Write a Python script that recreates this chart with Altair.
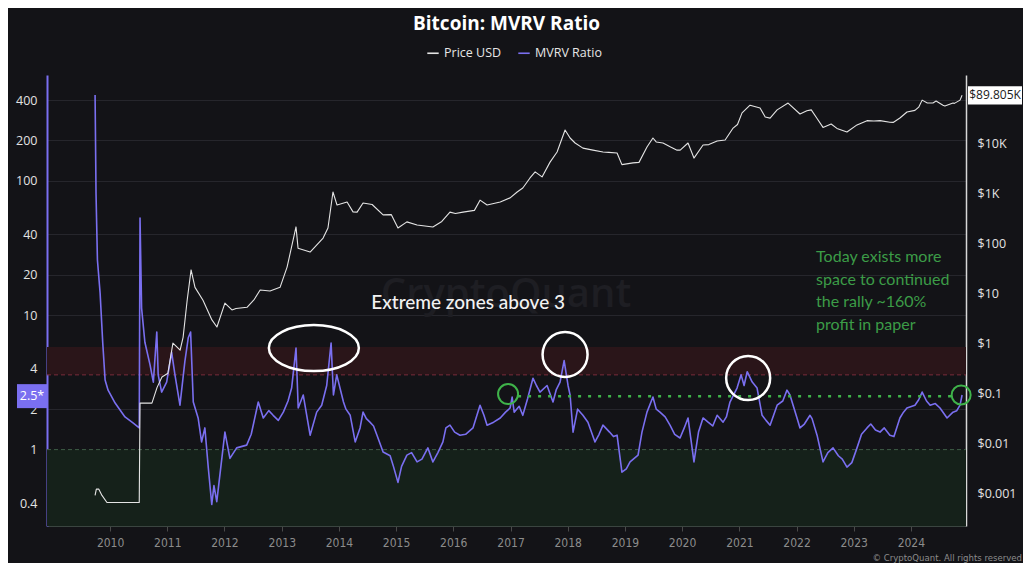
import altair as alt
import pandas as pd

# ---------------- data ----------------
mvrv_dates = [
    "2009-09-27", "2009-10-03", "2009-10-12", "2009-10-29", "2009-11-15", "2009-11-30",
    "2009-12-19", "2010-02-02", "2010-04-06", "2010-05-27", "2010-07-06", "2010-07-11",
    "2010-07-21", "2010-08-11", "2010-09-13", "2010-10-04", "2010-10-26", "2010-11-04",
    "2010-11-26", "2010-12-28", "2011-01-29", "2011-02-19", "2011-03-23", "2011-04-23",
    "2011-05-15", "2011-05-30", "2011-06-16", "2011-07-17", "2011-08-08", "2011-08-29",
    "2011-09-20", "2011-10-12", "2011-10-26", "2011-11-13", "2012-01-04", "2012-02-05",
    "2012-03-19", "2012-05-22", "2012-08-04", "2012-09-05", "2012-11-07", "2013-01-11",
    "2013-03-05", "2013-04-02", "2013-04-16", "2013-05-18", "2013-07-01", "2013-08-12",
    "2013-09-13", "2013-10-15", "2013-11-12", "2013-11-27", "2013-12-18", "2014-01-30",
    "2014-03-14", "2014-04-15", "2014-05-16", "2014-06-04", "2014-07-18", "2014-09-01",
    "2014-10-10", "2014-11-24", "2015-01-13", "2015-03-11", "2015-05-15", "2015-07-23",
    "2015-08-24", "2015-10-27", "2015-12-11", "2016-02-13", "2016-05-06", "2016-06-20",
    "2016-08-04", "2016-10-27", "2016-12-29", "2017-01-11", "2017-01-24", "2017-03-20",
    "2017-05-24", "2017-07-08", "2017-08-22", "2017-09-29", "2017-11-13", "2017-12-09",
    "2018-01-03", "2018-01-16", "2018-02-04", "2018-03-05", "2018-04-08", "2018-06-24",
    "2018-08-14", "2018-11-12", "2018-12-13", "2019-02-03", "2019-03-26", "2019-05-22",
    "2019-06-29", "2019-08-13", "2019-10-16", "2019-12-19", "2020-02-08", "2020-03-17",
    "2020-05-14", "2020-08-12", "2020-09-19", "2020-11-02", "2020-12-17", "2021-01-12",
    "2021-01-31", "2021-02-20", "2021-03-24", "2021-04-24", "2021-05-26", "2021-07-16",
    "2021-08-30", "2021-11-01", "2021-11-20", "2021-12-10", "2022-01-04", "2022-01-23",
    "2022-03-28", "2022-05-12", "2022-06-19", "2022-08-22", "2022-11-19", "2023-01-22",
    "2023-03-27", "2023-06-18", "2023-08-20", "2023-10-23", "2023-12-07", "2024-01-27",
    "2024-03-13", "2024-05-03", "2024-07-05", "2024-08-19", "2024-09-26", "2024-11-10",
    "2024-11-23",
]
mvrv_values = [
    436, 81, 25.8, 14.7, 6.2, 3.3,
    2.77, 2.22, 1.75, 1.58, 1.45, 53,
    11.3, 6.3, 4.27, 3.18, 7.5, 3.6,
    2.68, 3.18, 5.3, 3.6, 2.14, 4.5,
    6.8, 7.5, 2.26, 1.72, 1.14, 1.45,
    0.73, 0.39, 0.54, 0.41, 1.35, 0.86,
    1.03, 1.08, 2.26, 1.72, 1.8, 1.9,
    2.87, 5.7, 2.04, 2.55, 1.28, 1.9,
    2.14, 3.0, 6.2, 2.55, 3.6, 2.26,
    1.8, 1.14, 1.45, 1.9, 1.6, 1.28,
    0.96, 0.9, 0.57, 0.91, 0.81, 1.03,
    0.81, 1.14, 1.52, 1.28, 1.45, 2.14,
    1.52, 1.72, 2.04, 2.46, 1.9, 1.8,
    3.4, 2.68, 3.0, 2.26, 3.18, 4.6,
    3.0, 2.55, 1.35, 2.0, 1.8, 1.14,
    1.52, 1.28, 0.68, 0.81, 0.91, 1.9,
    2.46, 1.9, 1.52, 1.22, 1.72, 0.81,
    1.72, 1.8, 1.6, 2.26, 2.87, 3.6,
    3.0, 3.8, 3.18, 2.87, 1.8, 1.52,
    2.14, 2.77, 2.55, 2.14, 1.72, 1.45,
    1.8, 1.28, 0.81, 1.03, 0.74, 1.03,
    1.45, 1.35, 1.28, 1.72, 2.04, 2.14,
    2.68, 2.14, 2.04, 1.72, 1.9, 2.14,
    2.55,
]
# extra wiggles between the main turning points
mvrv_extra_dates = [
    "2012-06-20", "2012-10-10", "2012-12-10", "2013-02-10", "2014-02-15", "2014-06-25",
    "2014-08-10", "2014-12-15", "2015-02-05", "2015-04-10", "2015-06-15", "2015-09-25",
    "2015-11-15", "2016-01-10", "2016-03-20", "2016-07-15", "2016-09-15", "2016-11-30",
    "2017-02-25", "2017-04-20", "2017-06-15", "2017-10-20", "2018-05-10", "2018-07-20",
    "2018-09-25", "2018-10-20", "2019-01-10", "2019-04-20", "2019-07-20", "2019-09-15",
    "2019-11-15", "2020-01-15", "2020-04-15", "2020-06-15", "2020-07-15", "2020-10-10",
    "2021-06-20", "2021-10-05", "2022-02-20", "2022-04-10", "2022-07-20", "2022-09-25",
    "2022-10-20", "2022-12-20", "2023-02-20", "2023-04-20", "2023-05-20", "2023-07-15",
    "2023-09-15", "2023-11-15", "2024-02-20", "2024-04-10", "2024-06-05", "2024-10-20",
]
mvrv_extra_values = [
    1.3, 1.95, 1.65, 2.3, 2.0, 1.7,
    1.5, 0.75, 0.75, 0.95, 0.85, 0.95,
    1.45, 1.35, 1.3, 1.8, 1.6, 1.9,
    2.1, 2.4, 3.0, 2.8, 1.6, 1.3,
    1.35, 1.25, 0.72, 1.35, 2.0, 1.75,
    1.3, 1.45, 1.35, 1.6, 1.5, 1.75,
    1.65, 2.3, 1.55, 1.7, 0.95, 0.9,
    0.85, 0.8, 1.3, 1.55, 1.4, 1.45,
    1.25, 1.9, 2.35, 2.3, 2.2, 1.95,
]

price_dates = [
    "2009-09-27", "2009-10-05", "2009-10-21", "2009-11-10", "2009-12-12", "2010-07-06",
    "2010-07-11", "2010-07-30", "2010-09-25", "2010-10-28", "2010-11-28", "2011-01-05",
    "2011-02-06", "2011-03-24", "2011-04-12", "2011-05-08", "2011-06-02", "2011-06-27",
    "2011-08-17", "2011-10-13", "2011-11-14", "2012-01-04", "2012-02-18", "2012-05-24",
    "2012-08-16", "2012-10-18", "2012-12-21", "2013-02-04", "2013-04-02", "2013-04-15",
    "2013-07-01", "2013-09-22", "2013-10-23", "2013-11-24", "2013-12-20", "2014-02-22",
    "2014-04-01", "2014-04-27", "2014-06-04", "2014-10-10", "2015-01-13", "2015-03-11",
    "2015-05-15", "2015-08-24", "2015-12-11", "2016-03-03", "2016-06-20", "2016-08-04",
    "2016-10-27", "2016-12-29", "2017-02-12", "2017-03-20", "2017-05-05", "2017-06-07",
    "2017-07-21", "2017-09-10", "2017-10-25", "2017-12-15", "2018-01-16", "2018-02-17",
    "2018-04-08", "2018-06-11", "2018-08-14", "2018-11-12", "2018-12-13", "2019-02-22",
    "2019-05-22", "2019-06-29", "2019-09-01", "2019-11-30", "2020-02-08", "2020-03-17",
    "2020-05-14", "2020-08-12", "2020-10-02", "2020-11-22", "2021-01-18", "2021-03-10",
    "2021-05-13", "2021-06-15", "2021-07-16", "2021-08-30", "2021-11-08", "2022-01-23",
    "2022-03-08", "2022-05-12", "2022-06-19", "2022-09-16", "2022-11-19", "2023-01-22",
    "2023-03-27", "2023-06-18", "2023-08-20", "2023-10-23", "2023-12-07", "2024-01-27",
    "2024-02-20", "2024-03-13", "2024-05-21", "2024-07-24", "2024-09-26", "2024-11-10",
    "2024-11-23",
]
price_values = [
    0.0009, 0.0012, 0.0012, 0.0009, 0.00065, 0.00065,
    0.063, 0.063, 0.063, 0.13, 0.21, 0.25,
    1.0, 0.72, 1.3, 7.2, 29, 13,
    7.2, 2.9, 2.1, 6.3, 4.6, 5.2,
    11.5, 11, 13, 33, 210, 79,
    66, 126, 200, 1050, 575, 660,
    420, 415, 630, 365, 200, 265,
    230, 210, 415, 415, 720, 575,
    660, 800, 1050, 1260, 2000, 2650,
    2100, 4150, 6600, 18200, 12600, 10000,
    7900, 7200, 6600, 6300, 3700, 4000,
    8300, 12600, 10000, 7200, 10000, 5000,
    9100, 11000, 11500, 19900, 40000, 57000,
    50000, 33000, 31500, 46000, 63000, 38000,
    44000, 31000, 20500, 19600, 16600, 23000,
    28000, 28000, 26000, 31600, 41700, 45000,
    52000, 72000, 63000, 57000, 63000, 72000,
    89805,
]
price_extra_dates = [
    "2012-03-15", "2012-07-10", "2014-08-01", "2014-12-01", "2015-10-20", "2016-01-15",
    "2016-05-15", "2018-09-20", "2019-04-01", "2019-07-20", "2019-10-20", "2019-12-20",
    "2020-06-20", "2020-12-20", "2022-04-05", "2022-08-10", "2023-05-10", "2023-09-10",
    "2024-04-15", "2024-06-10", "2024-08-05", "2024-10-05",
]
price_extra_values = [
    4.9, 7.5, 590, 370, 270, 390,
    450, 6500, 4100, 10500, 8300, 7200,
    9300, 23500, 46000, 24000, 27500, 25800,
    63000, 69000, 55000, 62000,
]

mvrv_ticks = [0.4, 1, 2, 4, 10, 20, 40, 100, 200, 400]
price_ticks = [0.001, 0.01, 0.1, 1, 10, 100, 1000, 10000]
year_ticks = list(range(2010, 2025))

overheat_zone = [3.6, 5.8]
undervalued_level = 1.0
current_level = 2.5
last_price = 89805
last_price_label = "$89.805K"

green_marks_dates = ["2016-12-16", "2024-11-17"]
green_marks_values = [2.59, 2.55]
green_line_dates = ["2017-02-18", "2024-10-20"]

white_marks_dates = ["2013-07-25", "2017-12-15", "2021-02-26"]
white_marks_values = [5.70, 5.10, 3.41]

note_lines = ["Today exists more", "space to continued", "the rally ~160%", "profit in paper"]
note_values = [27.1, 18.3, 12.5, 8.45]

# ---------------- layout / style ----------------
W, H = 919, 451
BG = "#131317"
PURPLE = "#7a6ff0"
GREEN = "#3fb34a"
NARROW = "Liberation Sans Narrow, DejaVu Sans Condensed, Liberation Sans, sans-serif"
MVRV_DOMAIN = [0.27, 614]
PRICE_DOMAIN = [0.00022, 229000]

x_scale = alt.Scale(type="utc", domain=[alt.DateTime(year=2008, month=11, date=24, utc=True),
                                        alt.DateTime(year=2024, month=12, date=18, utc=True)])
x_axis = alt.Axis(values=[alt.DateTime(year=y, month=1, date=1, utc=True) for y in year_ticks],
                  format="%Y", title=None, grid=False, labelColor="#8c8c8c",
                  labelFont=NARROW, labelFontSize=12, tickColor="#4a4a4a",
                  tickSize=5, domainColor="#3a4540", labelPadding=6)

def X(field="date"):
    return alt.X(f"{field}:T", scale=x_scale, axis=x_axis)

mvrv_scale = alt.Scale(type="log", domain=MVRV_DOMAIN)
mvrv_axis = alt.Axis(orient="left", values=mvrv_ticks, format="~g", title=None, grid=True,
                     gridColor="#26262c", ticks=False, domainColor=PURPLE, domainWidth=2,
                     labelColor="#e2e2e2", labelFontSize=12.5, labelFont="Open Sans",
                     labelPadding=10)
price_scale = alt.Scale(type="log", domain=PRICE_DOMAIN)
price_axis = alt.Axis(orient="right", values=price_ticks, title=None, grid=False, ticks=False,
                      labelExpr="datum.value >= 1000 ? '$' + format(datum.value/1000, '~g') + 'K' : '$' + format(datum.value, '~g')",
                      domainColor="#d8d8d8", domainWidth=1.5, labelColor="#e2e2e2",
                      labelFontSize=12.5, labelFont="Open Sans", labelPadding=11)

def YM(field="v"):
    return alt.Y(f"{field}:Q", scale=mvrv_scale, axis=mvrv_axis)

def YP(field="v"):
    return alt.Y(f"{field}:Q", scale=price_scale, axis=price_axis)

color_scale = alt.Scale(domain=["Price USD", "MVRV Ratio"], range=["#e4e4e4", PURPLE])
legend = alt.Legend(orient="none", legendX=379, legendY=-29, direction="horizontal", title=None,
                    symbolType="stroke", symbolSize=130, symbolStrokeWidth=1.6,
                    labelColor="#e6e6e6", labelFontSize=12.5, labelFont="Open Sans",
                    columnPadding=13)

# ---------------- tables ----------------
mvrv_df = pd.DataFrame({"date": mvrv_dates + mvrv_extra_dates,
                        "v": mvrv_values + mvrv_extra_values})
mvrv_df["series"] = "MVRV Ratio"
mvrv_df = mvrv_df.sort_values("date").reset_index(drop=True)
price_df = pd.DataFrame({"date": price_dates + price_extra_dates,
                         "v": price_values + price_extra_values})
price_df["series"] = "Price USD"
price_df = price_df.sort_values("date").reset_index(drop=True)

# ---------------- MVRV group ----------------
low_band = alt.Chart(pd.DataFrame({"v": [MVRV_DOMAIN[0]], "v2": [undervalued_level]})).mark_rect(
    color="#15211a").encode(x=alt.value(0), x2=alt.value(W), y=YM(), y2="v2:Q")
high_band = alt.Chart(pd.DataFrame({"v": [overheat_zone[0]], "v2": [overheat_zone[1]]})).mark_rect(
    color="#2a1519").encode(x=alt.value(0), x2=alt.value(W), y=YM(), y2="v2:Q")
low_rule = alt.Chart(pd.DataFrame({"v": [undervalued_level]})).mark_rule(
    strokeDash=[4, 3], strokeWidth=1, color="#3e5c46").encode(x=alt.value(0), x2=alt.value(W), y=YM())
high_rule = alt.Chart(pd.DataFrame({"v": [overheat_zone[0]]})).mark_rule(
    strokeDash=[4, 3], strokeWidth=1, color="#7a2c3a").encode(x=alt.value(0), x2=alt.value(W), y=YM())

watermark = alt.Chart(pd.DataFrame({"date": ["2016-12-03"], "v": [14.1], "t": ["CryptoQuant"]})).mark_text(
    fontSize=40, font="Open Sans", fontWeight=600, color="#1e1e23"
).encode(x=X(), y=YM(), text="t:N")

mvrv_line = alt.Chart(mvrv_df).mark_line(strokeWidth=1.6, strokeJoin="round").encode(
    x=X(), y=YM(), color=alt.Color("series:N", scale=color_scale, legend=legend)
)

green_rule = alt.Chart(pd.DataFrame({"date": [green_line_dates[0]], "date2": [green_line_dates[1]], "v": [current_level]})).mark_rule(
    color=GREEN, strokeWidth=2.5, strokeDash=[3, 7]
).encode(x=X(), x2="date2:T", y=YM())

green_circles = alt.Chart(pd.DataFrame({"date": green_marks_dates, "v": green_marks_values, "s": [400, 361]})).mark_point(
    shape="circle", filled=False, color=GREEN, strokeWidth=2, opacity=1
).encode(x=X(), y=YM(), size=alt.Size("s:Q", scale=None, legend=None))

ellipse = alt.Chart(pd.DataFrame({"date": white_marks_dates[:1], "v": white_marks_values[:1]})).mark_point(
    shape="M -1 0 A 1 0.51 0 1 0 1 0 A 1 0.51 0 1 0 -1 0 Z", size=8100, filled=False,
    color="white", strokeWidth=2.5, opacity=1
).encode(x=X(), y=YM())

white_circles = alt.Chart(pd.DataFrame({"date": white_marks_dates[1:], "v": white_marks_values[1:], "s": [2025, 1936]})).mark_point(
    shape="circle", filled=False, color="white", strokeWidth=2.5, opacity=1
).encode(x=X(), y=YM(), size=alt.Size("s:Q", scale=None, legend=None))

extreme_text = alt.Chart(pd.DataFrame({"date": ["2016-04-05"], "v": [12.3], "t": ["Extreme zones above 3"]})).mark_text(
    fontSize=19, font="Lato", fontWeight=500, color="#f2f2f2"
).encode(x=X(), y=YM(), text="t:N")

note_text = alt.Chart(pd.DataFrame({"date": ["2022-05-06"] * 4, "v": note_values, "t": note_lines})).mark_text(
    fontSize=16, font="Lato", color="#3c9c47", align="left"
).encode(x=X(), y=YM(), text="t:N")

level_tag = alt.Chart(pd.DataFrame({"v": [current_level]})).mark_point(
    shape="M -1 -0.8 L 1 -0.8 L 1 0.8 L -1 0.8 Z", size=900, filled=True, color=PURPLE, opacity=1
).encode(x=alt.value(-15), y=YM())
level_text = alt.Chart(pd.DataFrame({"v": [current_level], "t": ["2.5*"]})).mark_text(
    fontSize=12.5, font="Open Sans", color="white"
).encode(x=alt.value(-15), y=YM(), text="t:N")

copyright_text = alt.Chart(pd.DataFrame({"t": ["© CryptoQuant. All rights reserved"]})).mark_text(
    fontSize=9.5, font=NARROW, color="#8c8c8c", align="right"
).encode(x=alt.value(975), y=alt.value(483), text="t:N")

mvrv_group = alt.layer(low_band, high_band, low_rule, high_rule, watermark, mvrv_line, green_rule,
                       green_circles, ellipse, white_circles, extreme_text, note_text, level_tag,
                       level_text, copyright_text)

# ---------------- price group ----------------
price_line = alt.Chart(price_df).mark_line(strokeWidth=1.1, strokeJoin="round").encode(
    x=X(), y=YP(), color=alt.Color("series:N", scale=color_scale, legend=legend)
)
price_tag = alt.Chart(pd.DataFrame({"v": [last_price]})).mark_point(
    shape="M -1 -0.34 L 1 -0.34 L 1 0.34 L -1 0.34 Z", size=2916, filled=True, color="#ffffff", opacity=1
).encode(x=alt.value(948), y=YP())
price_tag_text = alt.Chart(pd.DataFrame({"v": [last_price], "t": [last_price_label]})).mark_text(
    fontSize=12, font="Open Sans", color="#1a1a1a"
).encode(x=alt.value(948), y=YP(), text="t:N")

price_group = alt.layer(price_line, price_tag, price_tag_text)

chart = alt.layer(mvrv_group, price_group).resolve_scale(
    y="independent"
).properties(
    width=W, height=H,
    title=alt.TitleParams("Bitcoin: MVRV Ratio", color="#ffffff", fontSize=19, fontWeight="bold",
                          font="Open Sans", anchor="middle", offset=12),
    autosize=alt.AutoSizeParams(type="none"),
    padding={"left": 39, "top": 67, "right": 57, "bottom": 37},
).configure(background=BG).configure_view(stroke=None)

chart.save("out.html", embed_options={"renderer": "svg", "actions": False})
